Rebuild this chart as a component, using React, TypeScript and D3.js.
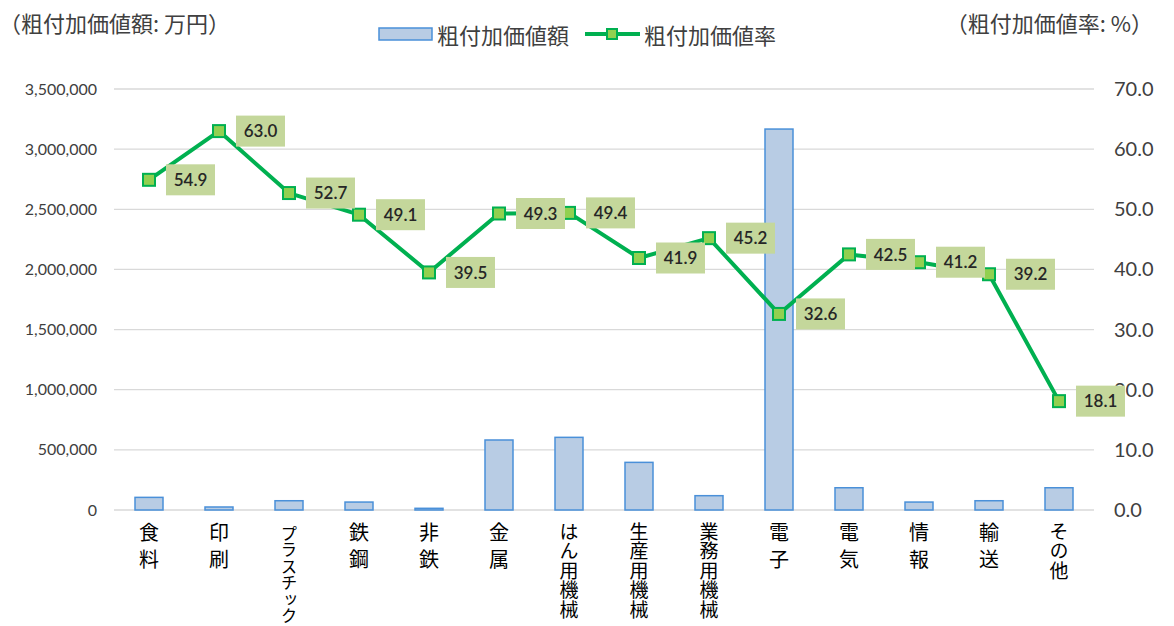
import React, { useEffect, useRef } from 'react';
import * as d3 from 'd3';

const categories = [
	'食料', '印刷', 'プラスチック', '鉄鋼', '非鉄', '金属', 'はん用機械',
	'生産用機械', '業務用機械', '電子', '電気', '情報', '輸送', 'その他',
];
// 粗付加価値額 (万円)
const amounts = [
	105000, 25000, 77000, 66000, 14000, 582000, 604000,
	396000, 119000, 3167000, 185000, 66000, 77000, 185000,
];
// 粗付加価値率 (%)
const rates = [54.9, 63.0, 52.7, 49.1, 39.5, 49.3, 49.4, 41.9, 45.2, 32.6, 42.5, 41.2, 39.2, 18.1];
const leftTicks = [0, 500000, 1000000, 1500000, 2000000, 2500000, 3000000, 3500000];
const rightTicks = [0, 10, 20, 30, 40, 50, 60, 70];

const JP = '"Noto Sans CJK JP", "Noto Sans", sans-serif';
const NUM = 'Lato, "Noto Sans", sans-serif';

const App: React.FC = () => {
	const svgRef = useRef<SVGSVGElement | null>(null);

	useEffect(() => {
		if (!svgRef.current) return;
		const width = 1174;
		const height = 626;
		const left = 114;
		const right = 1094;
		const top = 89;
		const bottom = 510;

		const svg = d3.select(svgRef.current);
		svg.selectAll('*').remove();
		svg.attr('width', width).attr('height', height);

		svg.append('rect').attr('width', width).attr('height', height).attr('fill', '#fff');

		const x = d3.scaleBand<string>().domain(categories).range([left, right]);
		const yL = d3.scaleLinear().domain([0, 3500000]).range([bottom, top]);
		const yR = d3.scaleLinear().domain([0, 70]).range([bottom, top]);
		const cx = (c: string) => (x(c) ?? 0) + x.bandwidth() / 2;

		// グリッド線
		svg
			.append('g')
			.selectAll('line')
			.data(leftTicks)
			.join('line')
			.attr('x1', left)
			.attr('x2', right)
			.attr('y1', (d) => yL(d))
			.attr('y2', (d) => yL(d))
			.attr('stroke', '#d9d9d9')
			.attr('stroke-width', 1.3);

		// 左軸ラベル
		svg
			.append('g')
			.selectAll('text')
			.data(leftTicks)
			.join('text')
			.attr('x', 97)
			.attr('y', (d) => yL(d))
			.attr('dy', '0.35em')
			.attr('text-anchor', 'end')
			.attr('font-family', NUM)
			.attr('font-size', 16)
			.attr('fill', '#404040')
			.text((d) => d3.format(',')(d));

		// 右軸ラベル
		svg
			.append('g')
			.selectAll('text')
			.data(rightTicks)
			.join('text')
			.attr('x', 1114)
			.attr('y', (d) => yR(d))
			.attr('dy', '0.35em')
			.attr('font-family', NUM)
			.attr('font-size', 20)
			.attr('fill', '#404040')
			.text((d) => d.toFixed(1));

		// 棒
		const bw = 28;
		svg
			.append('g')
			.selectAll('rect')
			.data(categories)
			.join('rect')
			.attr('x', (c) => cx(c) - bw / 2)
			.attr('y', (c, i) => yL(amounts[i]))
			.attr('width', bw)
			.attr('height', (c, i) => bottom - yL(amounts[i]))
			.attr('fill', '#b8cce4')
			.attr('stroke', '#4a90d9')
			.attr('stroke-width', 1.5);

		// 折れ線
		const line = d3
			.line<number>()
			.x((d, i) => cx(categories[i]))
			.y((d) => yR(d));
		svg
			.append('path')
			.attr('d', line(rates))
			.attr('fill', 'none')
			.attr('stroke', '#00b050')
			.attr('stroke-width', 4)
			.attr('stroke-linejoin', 'round');

		const ms = 12;
		svg
			.append('g')
			.selectAll('rect')
			.data(rates)
			.join('rect')
			.attr('x', (d, i) => cx(categories[i]) - ms / 2)
			.attr('y', (d) => yR(d) - ms / 2)
			.attr('width', ms)
			.attr('height', ms)
			.attr('fill', '#92d050')
			.attr('stroke', '#00b050')
			.attr('stroke-width', 2);

		// データラベル
		const labels = svg
			.append('g')
			.selectAll('g')
			.data(rates)
			.join('g')
			.attr('transform', (d, i) => `translate(${cx(categories[i]) + 17},${yR(d)})`);
		labels
			.append('rect')
			.attr('x', 0)
			.attr('y', -15.5)
			.attr('width', 49)
			.attr('height', 31)
			.attr('fill', '#c4d79b');
		labels
			.append('text')
			.attr('x', 24.5)
			.attr('y', 0)
			.attr('dy', '0.36em')
			.attr('text-anchor', 'middle')
			.attr('font-family', NUM)
			.attr('font-size', 17)
			.attr('font-weight', 600)
			.attr('fill', '#262626')
			.text((d) => d.toFixed(1));

		// カテゴリラベル (縦書き)
		svg
			.append('g')
			.selectAll('text')
			.data(categories)
			.join('text')
			.attr('x', (c) => cx(c))
			.attr('y', (c) => (Array.from(c).length >= 6 ? 525 : 522))
			.attr('style', 'writing-mode: vertical-rl; text-orientation: upright;')
			.attr('font-family', JP)
			.attr('font-size', (c) => {
				const n = Array.from(c).length;
				return n === 2 ? 20 : n >= 6 ? 16.5 : 19;
			})
			.attr('letter-spacing', (c) => {
				const n = Array.from(c).length;
				return n === 2 ? 7.5 : n >= 6 ? 0 : 0.5;
			})
			.attr('fill', '#000')
			.text((c) => c);

		// 軸タイトル
		svg
			.append('text')
			.attr('x', -1)
			.attr('y', 22)
			.attr('dominant-baseline', 'central')
			.attr('font-family', JP)
			.attr('font-size', 22)
			.attr('fill', '#404040')
			.text('（粗付加価値額: 万円）');
		svg
			.append('text')
			.attr('x', 1153)
			.attr('y', 22)
			.attr('dominant-baseline', 'central')
			.attr('text-anchor', 'end')
			.attr('font-family', JP)
			.attr('font-size', 22)
			.attr('fill', '#404040')
			.text('（粗付加価値率: %）');

		// 凡例
		const lg = svg.append('g');
		lg.append('rect')
			.attr('x', 379)
			.attr('y', 28)
			.attr('width', 53)
			.attr('height', 12)
			.attr('fill', '#b8cce4')
			.attr('stroke', '#4a90d9')
			.attr('stroke-width', 1.5);
		lg.append('text')
			.attr('x', 437)
			.attr('y', 34)
			.attr('dominant-baseline', 'central')
			.attr('font-family', JP)
			.attr('font-size', 22)
			.attr('fill', '#404040')
			.text('粗付加価値額');
		lg.append('line')
			.attr('x1', 585)
			.attr('x2', 640)
			.attr('y1', 34)
			.attr('y2', 34)
			.attr('stroke', '#00b050')
			.attr('stroke-width', 4);
		lg.append('rect')
			.attr('x', 607)
			.attr('y', 29)
			.attr('width', 10)
			.attr('height', 10)
			.attr('fill', '#92d050')
			.attr('stroke', '#00b050')
			.attr('stroke-width', 2);
		lg.append('text')
			.attr('x', 644)
			.attr('y', 34)
			.attr('dominant-baseline', 'central')
			.attr('font-family', JP)
			.attr('font-size', 22)
			.attr('fill', '#404040')
			.text('粗付加価値率');
	}, []);

	return <svg ref={svgRef} style={{ position: 'absolute', left: 0, top: 0 }}></svg>;
};

export default App;
